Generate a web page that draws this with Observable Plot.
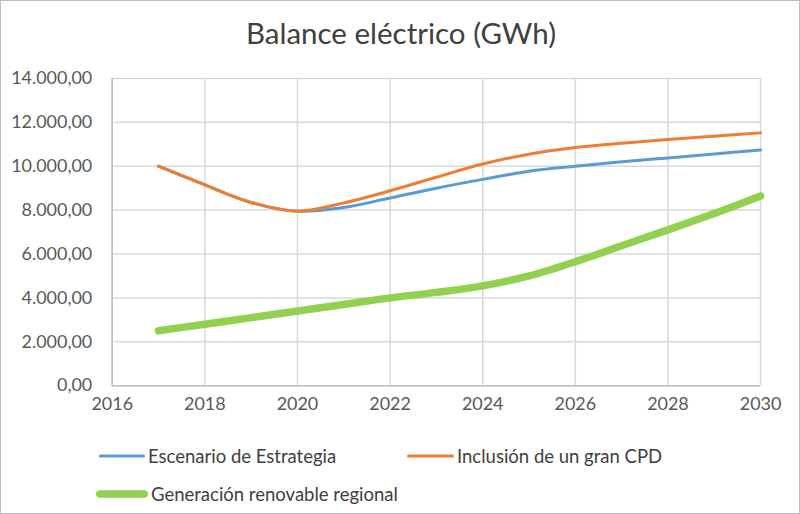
<!DOCTYPE html>
<html>
<head>
<meta charset="utf-8">
<script src="https://cdn.jsdelivr.net/npm/d3@7"></script>
<script src="https://cdn.jsdelivr.net/npm/@observablehq/plot@0.6"></script>
<style>
  html, body { margin: 0; padding: 0; background: #fff; }
  #frame { position: relative; width: 800px; height: 514px; box-sizing: border-box; border: 1px solid #bfbfbf; overflow: hidden; font-family: Lato, "Open Sans", sans-serif; }
  #title { position: absolute; left: 0; top: 12px; width: 800px; text-align: center; font-size: 29.5px; color: #404040; line-height: 40px; }
  #chart { position: absolute; left: 0; top: 60px; }
  .leg { position: absolute; display: flex; align-items: center; font-size: 18.5px; color: #404040; white-space: nowrap; }
  .leg svg { margin-right: 2px; }
</style>
</head>
<body>
<div id="frame">
  <div id="title">Balance eléctrico (GWh)</div>
  <div id="chart"></div>
</div>
<script>
const years = [2017, 2018, 2019, 2020, 2021, 2022, 2023, 2024, 2025, 2026, 2027, 2028, 2029, 2030];
const escenarioEstrategia = [10000, 9150, 8350, 7950, 8120, 8550, 9000, 9400, 9770, 10000, 10200, 10380, 10560, 10740];
const inclusionCPD = [10000, 9150, 8350, 7950, 8330, 8880, 9500, 10100, 10550, 10850, 11050, 11220, 11370, 11520];
const generacionRenovable = [2500, 2800, 3100, 3400, 3700, 4000, 4250, 4550, 5000, 5650, 6380, 7100, 7850, 8640];
const seriesNames = ["Escenario de Estrategia", "Inclusión de un gran CPD", "Generación renovable regional"];
const seriesColors = ["#5b9bd5", "#ed7d31", "#92d050"];
const seriesWidths = [3, 3, 7.5];
const xTicks = [2016, 2018, 2020, 2022, 2024, 2026, 2028, 2030];
const yTicks = [0, 2000, 4000, 6000, 8000, 10000, 12000, 14000];

const seriesValues = [escenarioEstrategia, inclusionCPD, generacionRenovable];
const esFmt = d3.formatLocale({decimal: ",", thousands: ".", grouping: [3], currency: ["", "€"]}).format(",.2f");

const lineMarks = seriesValues.map((vals, i) =>
  Plot.line(years.map((y, j) => ({year: y, value: vals[j]})), {
    x: "year", y: "value", stroke: seriesColors[i], strokeWidth: seriesWidths[i],
    curve: "catmull-rom", strokeLinecap: "round", strokeLinejoin: "round"
  })
);

const chart = Plot.plot({
  width: 800,
  height: 365,
  marginLeft: 111,
  marginRight: 39,
  marginTop: 17,
  marginBottom: 40,
  style: {fontFamily: "Lato, 'Open Sans', sans-serif", fontSize: "18px", color: "#595959", background: "transparent"},
  x: {domain: [2016, 2030], label: null},
  y: {domain: [0, 14000], label: null},
  marks: [
    Plot.gridX(xTicks, {stroke: "#d9d9d9", strokeOpacity: 1, strokeWidth: 1.5}),
    Plot.gridY(yTicks, {stroke: "#d9d9d9", strokeOpacity: 1, strokeWidth: 1.5}),
    Plot.ruleX([2016], {stroke: "#bfbfbf", strokeWidth: 1.5}),
    Plot.ruleY([0], {stroke: "#bfbfbf", strokeWidth: 1.5}),
    Plot.axisX({ticks: xTicks, tickFormat: d => String(d), tickSize: 0, tickPadding: 12, fill: "#595959"}),
    Plot.axisY({ticks: yTicks, tickFormat: esFmt, tickSize: 0, tickPadding: 20, fill: "#595959"}),
    ...lineMarks
  ]
});
document.getElementById("chart").appendChild(chart);

// Legend
const legendPos = [[97, 443], [405, 443], [94, 481]];
const swatchW = [48, 49, 54];
const frame = document.getElementById("frame");
seriesNames.forEach((name, i) => {
  const d = document.createElement("div");
  d.className = "leg";
  d.style.left = legendPos[i][0] + "px";
  d.style.top = legendPos[i][1] + "px";
  d.style.height = "24px";
  const w = swatchW[i];
  const sw = seriesWidths[i];
  d.innerHTML = `<svg width="${w}" height="24"><line x1="${sw/2+1}" y1="12" x2="${w - sw/2 - 1}" y2="12" stroke="${seriesColors[i]}" stroke-width="${sw}" stroke-linecap="round"/></svg><span>${name}</span>`;
  frame.appendChild(d);
});
</script>
</body>
</html>
